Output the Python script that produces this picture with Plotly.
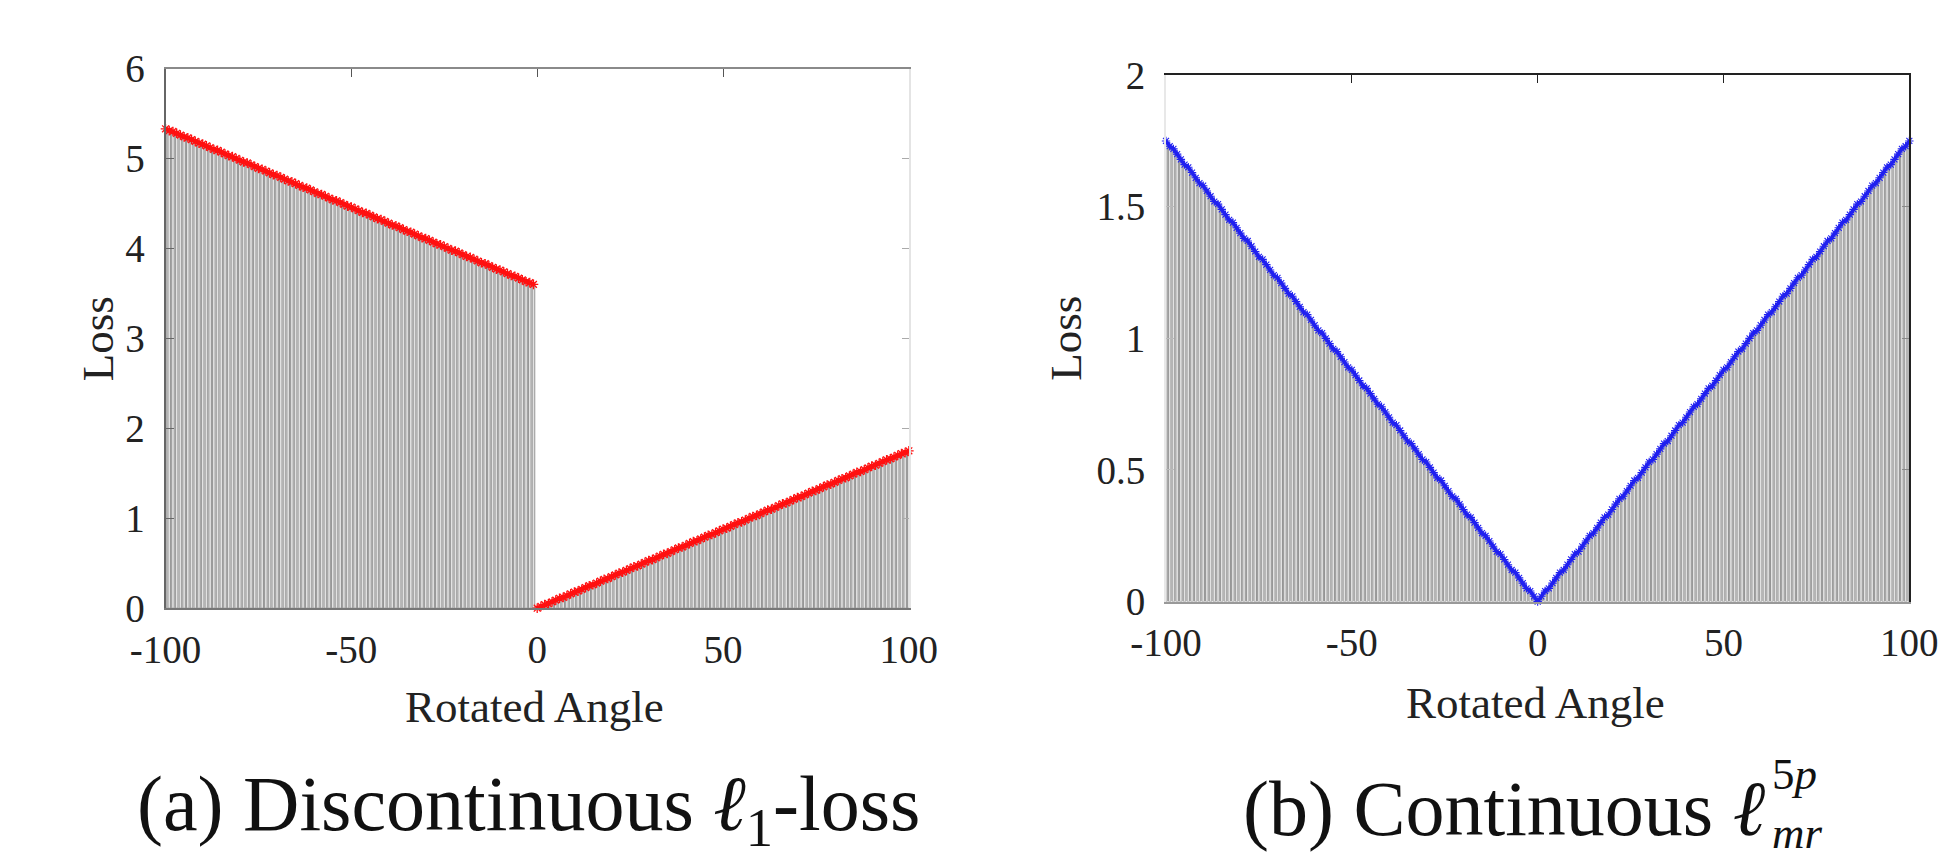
import plotly.graph_objects as go

# ---------------- data ----------------
angles_neg = list(range(-100, 0))     # rotated angle -100 .. -1
angles_pos = list(range(0, 101))      # rotated angle 0 .. 100

# (a) discontinuous l1-loss
l1_loss_neg = [5.33, 5.31, 5.30, 5.28, 5.26, 5.24, 5.23, 5.21, 5.19, 5.17,
               5.16, 5.14, 5.12, 5.10, 5.09, 5.07, 5.05, 5.03, 5.02, 5.00,
               4.98, 4.96, 4.95, 4.93, 4.91, 4.89, 4.88, 4.86, 4.84, 4.82,
               4.81, 4.79, 4.77, 4.75, 4.74, 4.72, 4.70, 4.68, 4.67, 4.65,
               4.63, 4.61, 4.60, 4.58, 4.56, 4.54, 4.53, 4.51, 4.49, 4.47,
               4.46, 4.44, 4.42, 4.40, 4.39, 4.37, 4.35, 4.33, 4.32, 4.30,
               4.28, 4.26, 4.25, 4.23, 4.21, 4.19, 4.18, 4.16, 4.14, 4.12,
               4.11, 4.09, 4.07, 4.05, 4.04, 4.02, 4.00, 3.98, 3.97, 3.95,
               3.93, 3.91, 3.90, 3.88, 3.86, 3.84, 3.83, 3.81, 3.79, 3.77,
               3.76, 3.74, 3.72, 3.70, 3.69, 3.67, 3.65, 3.63, 3.62, 3.60]
l1_loss_pos = [0.00, 0.02, 0.04, 0.05, 0.07, 0.09, 0.11, 0.12, 0.14, 0.16,
               0.18, 0.19, 0.21, 0.23, 0.25, 0.26, 0.28, 0.30, 0.32, 0.33,
               0.35, 0.37, 0.39, 0.40, 0.42, 0.44, 0.46, 0.47, 0.49, 0.51,
               0.53, 0.54, 0.56, 0.58, 0.60, 0.61, 0.63, 0.65, 0.67, 0.68,
               0.70, 0.72, 0.74, 0.75, 0.77, 0.79, 0.81, 0.82, 0.84, 0.86,
               0.88, 0.89, 0.91, 0.93, 0.95, 0.96, 0.98, 1.00, 1.02, 1.03,
               1.05, 1.07, 1.09, 1.10, 1.12, 1.14, 1.16, 1.17, 1.19, 1.21,
               1.23, 1.24, 1.26, 1.28, 1.30, 1.31, 1.33, 1.35, 1.37, 1.38,
               1.40, 1.42, 1.44, 1.45, 1.47, 1.49, 1.51, 1.52, 1.54, 1.56,
               1.58, 1.59, 1.61, 1.63, 1.65, 1.66, 1.68, 1.70, 1.72, 1.73,
               1.75]

# (b) continuous l_mr^5p loss
mr_loss_neg = [1.75, 1.73, 1.72, 1.70, 1.68, 1.66, 1.65, 1.63, 1.61, 1.59,
               1.58, 1.56, 1.54, 1.52, 1.51, 1.49, 1.47, 1.45, 1.44, 1.42,
               1.40, 1.38, 1.37, 1.35, 1.33, 1.31, 1.30, 1.28, 1.26, 1.24,
               1.23, 1.21, 1.19, 1.17, 1.16, 1.14, 1.12, 1.10, 1.09, 1.07,
               1.05, 1.03, 1.02, 1.00, 0.98, 0.96, 0.95, 0.93, 0.91, 0.89,
               0.88, 0.86, 0.84, 0.82, 0.81, 0.79, 0.77, 0.75, 0.74, 0.72,
               0.70, 0.68, 0.67, 0.65, 0.63, 0.61, 0.60, 0.58, 0.56, 0.54,
               0.53, 0.51, 0.49, 0.47, 0.46, 0.44, 0.42, 0.40, 0.39, 0.37,
               0.35, 0.33, 0.32, 0.30, 0.28, 0.26, 0.25, 0.23, 0.21, 0.19,
               0.18, 0.16, 0.14, 0.12, 0.11, 0.09, 0.07, 0.05, 0.04, 0.02]
mr_loss_pos = [0.00, 0.02, 0.04, 0.05, 0.07, 0.09, 0.11, 0.12, 0.14, 0.16,
               0.18, 0.19, 0.21, 0.23, 0.25, 0.26, 0.28, 0.30, 0.32, 0.33,
               0.35, 0.37, 0.39, 0.40, 0.42, 0.44, 0.46, 0.47, 0.49, 0.51,
               0.53, 0.54, 0.56, 0.58, 0.60, 0.61, 0.63, 0.65, 0.67, 0.68,
               0.70, 0.72, 0.74, 0.75, 0.77, 0.79, 0.81, 0.82, 0.84, 0.86,
               0.88, 0.89, 0.91, 0.93, 0.95, 0.96, 0.98, 1.00, 1.02, 1.03,
               1.05, 1.07, 1.09, 1.10, 1.12, 1.14, 1.16, 1.17, 1.19, 1.21,
               1.23, 1.24, 1.26, 1.28, 1.30, 1.31, 1.33, 1.35, 1.37, 1.38,
               1.40, 1.42, 1.44, 1.45, 1.47, 1.49, 1.51, 1.52, 1.54, 1.56,
               1.58, 1.59, 1.61, 1.63, 1.65, 1.66, 1.68, 1.70, 1.72, 1.73,
               1.75]

x_ticks = [-100, -50, 0, 50, 100]
x_tick_text = ["-100", "-50", "0", "50", "100"]
y_ticks_a = [0, 1, 2, 3, 4, 5, 6]
y_ticks_b = [0, 0.5, 1, 1.5, 2]
y_tick_text_b = ["0", "0.5", "1", "1.5", "2"]

# ---------------- figure ----------------
W, H = 1948, 863
FONT = "Liberation Serif, Times New Roman, Times, serif"
BAR_FILL = "#e2e2e2"
BAR_EDGE = "#959595"


def px_x(p):
    return p / W


def px_y(p):
    return 1 - p / H


fig = go.Figure()

# panel (a)
fig.add_trace(go.Bar(x=angles_neg + angles_pos, y=l1_loss_neg + l1_loss_pos,
                     marker=dict(color=BAR_FILL, line=dict(color=BAR_EDGE, width=1)),
                     xaxis="x", yaxis="y", showlegend=False))
for xs, ys in ((angles_neg, l1_loss_neg), (angles_pos, l1_loss_pos)):
    fig.add_trace(go.Scatter(x=xs, y=ys, mode="lines+markers",
                             line=dict(color="#ff1010", width=4.5),
                             marker=dict(symbol="asterisk-open", size=8,
                                         line=dict(color="#ff1010", width=1.3)),
                             cliponaxis=False, xaxis="x", yaxis="y", showlegend=False))

# panel (b)
fig.add_trace(go.Bar(x=angles_neg + angles_pos, y=mr_loss_neg + mr_loss_pos,
                     marker=dict(color=BAR_FILL, line=dict(color=BAR_EDGE, width=1)),
                     xaxis="x2", yaxis="y2", showlegend=False))
fig.add_trace(go.Scatter(x=angles_neg + angles_pos, y=mr_loss_neg + mr_loss_pos,
                         mode="lines+markers",
                         line=dict(color="#2020f0", width=3.5),
                         marker=dict(symbol="asterisk-open", size=7,
                                     line=dict(color="#2020f0", width=1.1)),
                         cliponaxis=False, xaxis="x2", yaxis="y2", showlegend=False))

tickfont = dict(family=FONT, size=39, color="#222")

dom_xa = [px_x(134), px_x(903)]
dom_ya = [px_y(618), px_y(50)]
dom_xb = [px_x(1169), px_x(1938)]
dom_yb = [px_y(611), px_y(57)]

common_x = dict(range=[-100, 100], tickvals=x_ticks, ticktext=x_tick_text,
                tickfont=tickfont, showgrid=False, zeroline=False, ticks="",
                ticklabelstandoff=6, showline=True, linewidth=2)
common_y = dict(showgrid=False, zeroline=False, ticks="inside", ticklen=8,
                tickfont=tickfont, ticklabelstandoff=11, showline=True, linewidth=2)

fig.update_layout(
    width=W, height=H,
    margin=dict(l=0, r=0, t=0, b=0),
    paper_bgcolor="white", plot_bgcolor="white",
    bargap=0.3,
    xaxis=dict(domain=dom_xa, anchor="y", linecolor="#777", **common_x),
    yaxis=dict(domain=dom_ya, anchor="x", range=[0, 6], tickvals=y_ticks_a,
               linecolor="#666", tickcolor="#666", **common_y),
    xaxis2=dict(domain=dom_xb, anchor="y2", linecolor="#999", **common_x),
    yaxis2=dict(domain=dom_yb, anchor="x2", range=[0, 2], tickvals=y_ticks_b,
                ticktext=y_tick_text_b, linecolor="#e8e8e8", tickcolor="#bbb", **common_y),
    # top / right frame lines with inside ticks
    xaxis3=dict(overlaying="x", anchor="y", side="top", range=[-100, 100],
                tickvals=x_ticks, ticks="inside", ticklen=8, tickcolor="#555",
                showticklabels=False, showgrid=False, zeroline=False,
                showline=True, linecolor="#8a8a8a", linewidth=2),
    yaxis3=dict(overlaying="y", anchor="x", side="right", range=[0, 6],
                tickvals=y_ticks_a, ticks="inside", ticklen=7, tickcolor="#aaa",
                showticklabels=False, showgrid=False, zeroline=False,
                showline=True, linecolor="#e4e4e4", linewidth=1.5),
    xaxis4=dict(overlaying="x2", anchor="y2", side="top", range=[-100, 100],
                tickvals=x_ticks, ticks="inside", ticklen=8, tickcolor="#222",
                showticklabels=False, showgrid=False, zeroline=False,
                showline=True, linecolor="#222", linewidth=2),
    yaxis4=dict(overlaying="y2", anchor="x2", side="right", range=[0, 2],
                tickvals=y_ticks_b, ticks="inside", ticklen=7, tickcolor="#888",
                showticklabels=False, showgrid=False, zeroline=False,
                showline=True, linecolor="#222", linewidth=2),
)

# invisible traces so the overlay frame axes are drawn
fig.add_trace(go.Scatter(x=[None], y=[None], xaxis="x3", yaxis="y3", showlegend=False, hoverinfo="skip"))
fig.add_trace(go.Scatter(x=[None], y=[None], xaxis="x4", yaxis="y4", showlegend=False, hoverinfo="skip"))

ann = []
label_font = dict(family=FONT, size=45, color="#222")
ann.append(dict(text="Loss", x=px_x(64), y=px_y(334), textangle=-90, showarrow=False,
                xref="paper", yref="paper", xanchor="center", yanchor="middle", font=label_font))
ann.append(dict(text="Loss", x=px_x(1066), y=px_y(334), textangle=-90, showarrow=False,
                xref="paper", yref="paper", xanchor="center", yanchor="middle", font=label_font))
ann.append(dict(text="Rotated Angle", x=px_x(516), y=px_y(722), showarrow=False,
                xref="paper", yref="paper", xanchor="center", yanchor="middle", font=label_font))
ann.append(dict(text="Rotated Angle", x=px_x(1551), y=px_y(718), showarrow=False,
                xref="paper", yref="paper", xanchor="center", yanchor="middle", font=label_font))

cap_font = dict(family=FONT, size=78, color="#111")
ann.append(dict(text="(a) Discontinuous <i>ℓ</i><sub>1</sub>-loss", x=px_x(509), y=px_y(829),
                showarrow=False, xref="paper", yref="paper", xanchor="center",
                yanchor="middle", font=cap_font))
ann.append(dict(text="(b) Continuous <i>ℓ</i>", x=px_x(1792), y=px_y(829),
                showarrow=False, xref="paper", yref="paper", xanchor="right",
                yanchor="middle", font=cap_font))
# stacked super/subscript of the l symbol (5p over mr)
ann.append(dict(text="5<i>p</i><br><i>mr</i>", x=px_x(1794), y=px_y(824),
                showarrow=False, xref="paper", yref="paper", xanchor="left", align="left",
                yanchor="middle", font=dict(family=FONT, size=45, color="#111")))

fig.update_layout(annotations=ann)
fig.write_html("out.html")
